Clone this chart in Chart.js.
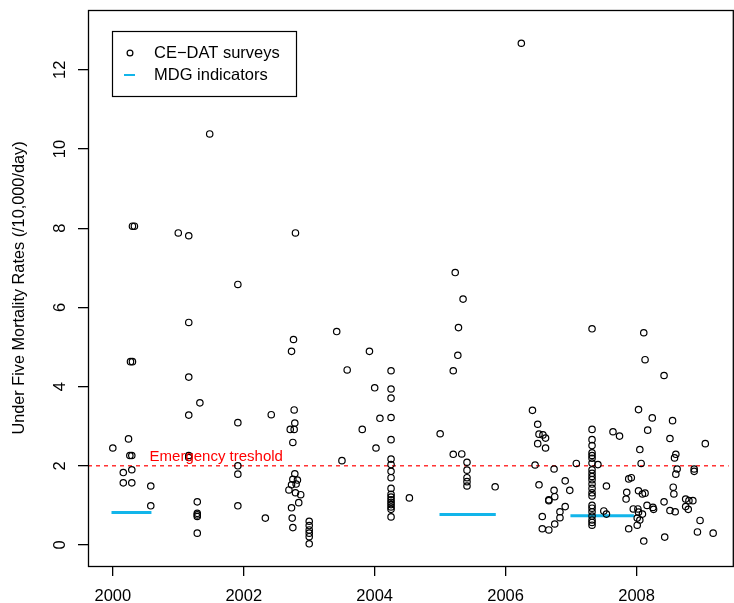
<!DOCTYPE html>
<html>
<head>
<meta charset="utf-8">
<script src="https://cdn.jsdelivr.net/npm/chart.js@4.4.1/dist/chart.umd.min.js"></script>
<style>
  body { margin: 0; background: #fff; }
  canvas { display: block; }
</style>
</head>
<body>
<canvas id="myChart" width="734" height="603"></canvas>
<script>
// survey points (year, deaths /10,000/day)
var surveyYear = [
	2000.00, 2000.16, 2000.16, 2000.24, 2000.26, 2000.29, 2000.29, 2000.29, 2000.27, 2000.30, 2000.30, 2000.33, 2000.58, 2000.58,
	2001.00, 2001.16, 2001.48, 2001.16, 2001.16, 2001.16, 2001.33, 2001.16, 2001.16, 2001.29, 2001.29, 2001.29, 2001.29, 2001.29,
	2001.91, 2001.91, 2001.91, 2001.91, 2001.91, 2002.33, 2002.42, 2002.71, 2002.77, 2002.75, 2002.73, 2002.76, 2002.77, 2002.78,
	2002.78, 2002.75, 2002.82, 2002.73, 2002.80, 2002.69, 2002.79, 2002.87, 2002.84, 2002.73, 2002.74, 2002.75, 2002.79,
	2003.00, 2003.00, 2003.00, 2003.00, 2003.00, 2003.00, 2003.42, 2003.58, 2003.50, 2003.81,
	2003.92, 2004.00, 2004.02, 2004.08,
	2004.25, 2004.25, 2004.25, 2004.25, 2004.25, 2004.25, 2004.25, 2004.25, 2004.25, 2004.25, 2004.25, 2004.25, 2004.25, 2004.25,
	2004.25, 2004.25, 2004.25, 2004.25, 2004.53,
	2005.00, 2005.20, 2005.27, 2005.28, 2005.35, 2005.23, 2005.20, 2005.33, 2005.41, 2005.41, 2005.41, 2005.41, 2005.41, 2005.84,
	2006.24,
	2006.41, 2006.49, 2006.51, 2006.57, 2006.61, 2006.49, 2006.61, 2006.45, 2006.74, 2006.51, 2006.91, 2006.74, 2006.75, 2006.66,
	2006.66, 2006.98, 2007.08, 2006.91, 2006.83, 2006.83, 2006.56, 2006.75, 2006.56, 2006.66,
	2007.32, 2007.32, 2007.32, 2007.32, 2007.32, 2007.32, 2007.32, 2007.32, 2007.32, 2007.32, 2007.32, 2007.32, 2007.32, 2007.32,
	2007.32, 2007.32, 2007.32, 2007.32, 2007.32, 2007.32, 2007.32, 2007.32, 2007.32,
	2007.41, 2007.54, 2007.50, 2007.54, 2007.64, 2007.74, 2007.85, 2007.84, 2007.88, 2007.92, 2007.88, 2007.95, 2008.02, 2008.03,
	2008.01, 2008.05, 2008.01, 2008.03, 2008.09, 2008.13, 2008.11, 2008.13, 2008.03, 2008.05, 2008.07, 2008.09, 2008.16, 2008.11,
	2008.17, 2008.24, 2008.25, 2008.26, 2008.42, 2008.51, 2008.55, 2008.60, 2008.58, 2008.62, 2008.60, 2008.56, 2008.57, 2008.42,
	2008.51, 2008.59, 2008.43, 2008.75, 2008.80, 2008.86, 2008.75, 2008.79, 2008.88, 2008.88, 2008.97, 2008.93, 2009.05, 2009.17
];
var surveyRate = [
	2.45, 1.83, 1.57, 2.68, 2.26, 2.26, 1.90, 1.57, 4.63, 4.63, 8.05, 8.05, 1.49, 0.99,
	7.88, 7.81, 10.38, 5.62, 4.24, 3.28, 3.59, 2.26, 2.21, 1.09, 0.80, 0.76, 0.72, 0.30,
	6.58, 3.09, 2.00, 1.79, 0.99, 0.68, 3.29, 2.92, 2.92, 2.59, 4.89, 5.19, 3.41, 3.08,
	1.80, 1.66, 1.64, 1.52, 1.54, 1.39, 1.32, 1.27, 1.07, 0.94, 0.68, 0.44, 7.88,
	0.60, 0.49, 0.38, 0.30, 0.21, 0.03, 5.39, 4.42, 2.13, 2.92,
	4.89, 3.97, 2.45, 3.20,
	4.40, 3.94, 3.71, 3.22, 2.66, 2.17, 2.03, 1.86, 1.70, 1.43, 1.28, 1.21, 1.14, 1.08,
	1.02, 0.96, 0.90, 0.71, 1.19,
	2.81, 4.40, 4.79, 5.49, 6.21, 6.88, 2.29, 2.30, 2.09, 1.89, 1.70, 1.60, 1.49, 1.47,
	12.67,
	3.40, 3.05, 2.80, 2.78, 2.70, 2.56, 2.45, 2.02, 1.92, 1.52, 1.62, 1.38, 1.22, 1.12,
	1.14, 1.38, 2.06, 0.97, 0.84, 0.69, 0.72, 0.53, 0.41, 0.38,
	5.46, 2.92, 2.66, 2.51, 2.33, 2.26, 2.19, 2.07, 1.90, 1.81, 1.73, 1.65, 1.54, 1.43,
	1.32, 1.24, 1.00, 0.93, 0.84, 0.73, 0.63, 0.57, 0.50,
	2.03, 1.49, 0.86, 0.78, 2.86, 2.75, 1.33, 1.16, 1.67, 1.70, 0.41, 0.91, 0.91, 0.83,
	0.68, 0.63, 0.50, 1.37, 1.29, 1.31, 5.36, 4.68, 3.42, 2.41, 2.06, 0.78, 1.00, 0.10,
	2.90, 3.21, 0.95, 0.90, 4.28, 2.69, 3.14, 2.29, 2.20, 1.92, 1.79, 1.46, 1.29, 1.09,
	0.87, 0.84, 0.20, 1.16, 1.12, 1.12, 0.97, 0.90, 1.92, 1.86, 0.62, 0.33, 2.56, 0.30
];

// MDG indicator segments
var mdgStart = [1999.98, 2004.99, 2006.99];
var mdgEnd = [2000.59, 2005.85, 2007.96];
var mdgValue = [0.82, 0.77, 0.74];

var thresholdValue = 2;
var thresholdLabel = 'Emergency treshold';

var xTicks = [2000, 2002, 2004, 2006, 2008];
var yTicks = [0, 2, 4, 6, 8, 10, 12];
var xMin = 1999.621, xMax = 2009.409;
var yMin = -0.53, yMax = 13.51;

var yTitle = 'Under Five Mortality Rates (/10,000/day)';
var legendLabels = ['CE\u2212DAT surveys', 'MDG indicators'];

var mdgColor = '#12b5ea';
var fontFam = '"Liberation Sans", Arial, Helvetica, sans-serif';

var points = surveyYear.map(function (x, i) { return { x: x, y: surveyRate[i] }; });

var datasets = [{
	label: legendLabels[0],
	data: points,
	showLine: false,
	pointStyle: 'circle',
	pointRadius: 3.2,
	pointBorderWidth: 1.2,
	pointBorderColor: '#000',
	pointBackgroundColor: 'rgba(0,0,0,0)'
}];
mdgValue.forEach(function (v, i) {
	datasets.push({
		label: legendLabels[1],
		data: [{ x: mdgStart[i], y: v }, { x: mdgEnd[i], y: v }],
		showLine: true,
		pointRadius: 0,
		borderColor: mdgColor,
		borderWidth: 3,
		borderCapStyle: 'butt'
	});
});
datasets.push({
	label: thresholdLabel,
	data: [{ x: xMin, y: thresholdValue }, { x: xMax, y: thresholdValue }],
	showLine: true,
	pointRadius: 0,
	borderColor: '#ff0000',
	borderWidth: 1.2,
	borderDash: [4, 4]
});

// frame, tick labels, axis title, threshold label and legend
var decor = {
	id: 'decor',
	afterDraw: function (chart) {
		var ctx = chart.ctx;
		var a = chart.chartArea;
		var xs = chart.scales.x, ys = chart.scales.y;
		ctx.save();
		ctx.strokeStyle = '#000';
		ctx.lineWidth = 1.3;
		// right side of the box falls outside the canvas
		ctx.strokeRect(a.left + 0.5, a.top + 0.5, a.right - a.left + 4, a.bottom - a.top);

		ctx.fillStyle = '#000';
		ctx.font = '16.5px ' + fontFam;
		ctx.textAlign = 'center';
		ctx.textBaseline = 'middle';
		xTicks.forEach(function (t) {
			ctx.fillText(String(t), xs.getPixelForValue(t), 596);
		});
		yTicks.forEach(function (t) {
			ctx.save();
			ctx.translate(60, ys.getPixelForValue(t));
			ctx.rotate(-Math.PI / 2);
			ctx.fillText(String(t), 0, 0);
			ctx.restore();
		});

		ctx.save();
		ctx.font = '16.3px ' + fontFam;
		ctx.translate(20, (a.top + a.bottom) / 2);
		ctx.rotate(-Math.PI / 2);
		ctx.fillText(yTitle, 0, 0);
		ctx.restore();

		// threshold label
		ctx.fillStyle = '#ff0000';
		ctx.font = '15px ' + fontFam;
		ctx.fillText(thresholdLabel, xs.getPixelForValue(2001.58), ys.getPixelForValue(2.23));

		// legend box
		var lx = a.left + 25, ly = a.top + 21;
		ctx.fillStyle = '#fff';
		ctx.fillRect(lx, ly, 184, 65);
		ctx.strokeStyle = '#000';
		ctx.lineWidth = 1.2;
		ctx.strokeRect(lx - 0.5, ly + 0.5, 184, 65);
		ctx.beginPath();
		ctx.arc(lx + 17, ly + 22, 2.9, 0, Math.PI * 2);
		ctx.stroke();
		ctx.strokeStyle = mdgColor;
		ctx.lineWidth = 2;
		ctx.beginPath();
		ctx.moveTo(lx + 11, ly + 44);
		ctx.lineTo(lx + 22, ly + 44);
		ctx.stroke();
		ctx.fillStyle = '#000';
		ctx.font = '16.5px ' + fontFam;
		ctx.textAlign = 'left';
		ctx.fillText(legendLabels[0], lx + 41, ly + 22);
		ctx.fillText(legendLabels[1], lx + 41, ly + 44);
		ctx.restore();
	}
};

var ctx = document.getElementById('myChart').getContext('2d');
var myChart = new Chart(ctx, {
	type: 'scatter',
	data: { datasets: datasets },
	options: {
		responsive: false,
		animation: false,
		layout: { padding: { top: 10, right: 0, bottom: 0, left: 0 } },
		plugins: {
			legend: { display: false },
			tooltip: { enabled: false }
		},
		scales: {
			x: {
				type: 'linear',
				min: xMin,
				max: xMax,
				afterBuildTicks: function (scale) {
					scale.ticks = xTicks.map(function (v) { return { value: v }; });
				},
				afterFit: function (scale) { scale.height = 37; },
				ticks: { display: false },
				border: { display: false },
				grid: {
					drawOnChartArea: false,
					drawTicks: true,
					tickLength: 10,
					tickColor: '#000',
					lineWidth: 1.3
				}
			},
			y: {
				type: 'linear',
				min: yMin,
				max: yMax,
				afterBuildTicks: function (scale) {
					scale.ticks = yTicks.map(function (v) { return { value: v }; });
				},
				afterFit: function (scale) { scale.width = 88; },
				ticks: { display: false },
				border: { display: false },
				grid: {
					drawOnChartArea: false,
					drawTicks: true,
					tickLength: 10,
					tickColor: '#000',
					lineWidth: 1.3
				}
			}
		}
	},
	plugins: [decor]
});
</script>
</body>
</html>
